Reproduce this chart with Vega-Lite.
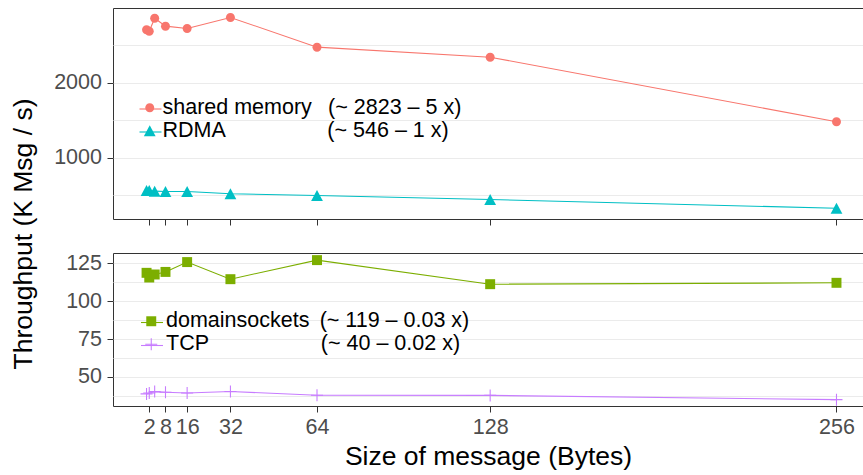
{
  "$schema": "https://vega.github.io/schema/vega-lite/v6.json",
  "padding": {"left": 10, "top": 7, "right": 0, "bottom": 0},
  "config": {
    "font": "Liberation Sans",
    "view": {"stroke": "#333333", "strokeWidth": 1},
    "axis": {
      "labelFont": "Liberation Sans",
      "titleFont": "Liberation Sans",
      "labelFontSize": 21.5,
      "labelColor": "#4d4d4d",
      "titleFontSize": 26.5,
      "titleFontWeight": "normal",
      "titleColor": "#000000",
      "tickColor": "#333333",
      "tickSize": 6,
      "tickWidth": 1,
      "domain": false,
      "gridColor": "#ebebeb",
      "gridWidth": 1.1,
      "labelOverlap": false
    },
    "legend": {
      "labelFont": "Liberation Sans",
      "labelFontSize": 21.5,
      "labelColor": "#000000",
      "labelLimit": 0
    }
  },
  "datasets": {
    "top": [
      {"size": 1, "throughput": 2707, "series": "shared memory"},
      {"size": 2, "throughput": 2688, "series": "shared memory"},
      {"size": 4, "throughput": 2861, "series": "shared memory"},
      {"size": 8, "throughput": 2755, "series": "shared memory"},
      {"size": 16, "throughput": 2724, "series": "shared memory"},
      {"size": 32, "throughput": 2871, "series": "shared memory"},
      {"size": 64, "throughput": 2475, "series": "shared memory"},
      {"size": 128, "throughput": 2341, "series": "shared memory"},
      {"size": 256, "throughput": 1480, "series": "shared memory"},
      {"size": 1, "throughput": 564, "series": "RDMA"},
      {"size": 2, "throughput": 564, "series": "RDMA"},
      {"size": 4, "throughput": 555, "series": "RDMA"},
      {"size": 8, "throughput": 551, "series": "RDMA"},
      {"size": 16, "throughput": 551, "series": "RDMA"},
      {"size": 32, "throughput": 520, "series": "RDMA"},
      {"size": 64, "throughput": 497, "series": "RDMA"},
      {"size": 128, "throughput": 443, "series": "RDMA"},
      {"size": 256, "throughput": 327, "series": "RDMA"}
    ],
    "bottom": [
      {"size": 1, "throughput": 118.8, "series": "domainsockets"},
      {"size": 2, "throughput": 115.7, "series": "domainsockets"},
      {"size": 4, "throughput": 117.7, "series": "domainsockets"},
      {"size": 8, "throughput": 119.4, "series": "domainsockets"},
      {"size": 16, "throughput": 125.9, "series": "domainsockets"},
      {"size": 32, "throughput": 114.6, "series": "domainsockets"},
      {"size": 64, "throughput": 127.2, "series": "domainsockets"},
      {"size": 128, "throughput": 111.3, "series": "domainsockets"},
      {"size": 256, "throughput": 112.2, "series": "domainsockets"},
      {"size": 1, "throughput": 38.8, "series": "TCP"},
      {"size": 2, "throughput": 39.4, "series": "TCP"},
      {"size": 4, "throughput": 40.3, "series": "TCP"},
      {"size": 8, "throughput": 39.9, "series": "TCP"},
      {"size": 16, "throughput": 39.4, "series": "TCP"},
      {"size": 32, "throughput": 40.4, "series": "TCP"},
      {"size": 64, "throughput": 37.9, "series": "TCP"},
      {"size": 128, "throughput": 37.8, "series": "TCP"},
      {"size": 256, "throughput": 35.0, "series": "TCP"}
    ]
  },
  "bounds": "flush",
  "spacing": 34,
  "resolve": {
    "scale": {"y": "independent", "color": "independent", "shape": "independent", "stroke": "independent"},
    "legend": {"color": "independent", "shape": "independent", "stroke": "independent"}
  },
  "vconcat": [
    {
      "width": 750,
      "height": 211,
      "data": {"name": "top"},
      "encoding": {
        "x": {
          "field": "size", "type": "quantitative",
          "scale": {"domain": [-11.4, 265.8], "nice": false, "zero": false},
          "axis": {"values": [2, 8, 16, 32, 64, 128, 256], "labels": false, "title": null, "grid": false}
        },
        "y": {
          "field": "throughput", "type": "quantitative",
          "scale": {"domain": [184, 2997], "nice": false, "zero": false},
          "axis": {
            "values": [500, 1000, 1500, 2000, 2500],
            "format": "d",
            "labelExpr": "datum.value % 1000 === 0 ? datum.label : ''",
            "tickOpacity": {"condition": {"test": "datum.value % 1000 === 0", "value": 1}, "value": 0},
            "grid": true,
            "labelPadding": 5.5,
            "title": "Throughput (K Msg / s)",
            "titleAngle": -90,
            "titleBaseline": "alphabetic",
            "titleAlign": "center",
            "titleX": -81.4,
            "titleY": 225.5
          }
        }
      },
      "layer": [
        {
          "mark": {"type": "line", "strokeWidth": 1.1},
          "encoding": {
            "stroke": {
              "field": "series", "type": "nominal", "sort": ["shared memory", "RDMA"],
              "scale": {"range": ["#F8766D", "#00BFC4"]},
              "legend": {
                "orient": "none", "legendX": 25.5, "legendY": 89, "title": null, "padding": 0,
                "symbolType": "stroke", "symbolSize": 484, "symbolStrokeWidth": 1.1,
                "labelOffset": -28, "rowPadding": 0, "zindex": 1,
                "labelExpr": "'\u00a0'"
              }
            }
          }
        },
        {
          "mark": {"type": "point", "filled": true, "size": 144, "opacity": 1},
          "encoding": {
            "color": {
              "field": "series", "type": "nominal",
              "scale": {"domain": ["shared memory", "RDMA"], "range": ["#F8766D", "#00BFC4"]},
              "legend": {
                "orient": "none", "legendX": 26, "legendY": 89, "title": null, "padding": 0,
                "symbolSize": 144, "symbolOpacity": 1, "symbolStrokeWidth": 0,
                "labelOffset": 2, "rowPadding": 0, "zindex": 2,
                "labelExpr": "datum.label === 'RDMA' ? 'RDMA\u00a0\u00a0\u00a0\u00a0\u00a0\u00a0\u00a0\u00a0\u00a0\u00a0\u00a0\u00a0\u00a0\u00a0\u00a0\u00a0\u00a0(~ 546 – 1 x)' : 'shared memory\u00a0\u00a0\u2009(~ 2823 – 5 x)'"
              }
            },
            "shape": {
              "field": "series", "type": "nominal",
              "scale": {"domain": ["shared memory", "RDMA"], "range": ["M0.75,0A0.75,0.75,0,1,1,-0.75,0A0.75,0.75,0,1,1,0.75,0Z", "M0,-0.92L0.98,0.92L-0.98,0.92Z"]},
              "legend": {
                "orient": "none", "legendX": 26, "legendY": 89, "title": null, "padding": 0,
                "symbolSize": 144, "symbolOpacity": 1, "symbolStrokeWidth": 0,
                "labelOffset": 2, "rowPadding": 0, "zindex": 2,
                "labelExpr": "datum.label === 'RDMA' ? 'RDMA\u00a0\u00a0\u00a0\u00a0\u00a0\u00a0\u00a0\u00a0\u00a0\u00a0\u00a0\u00a0\u00a0\u00a0\u00a0\u00a0\u00a0(~ 546 – 1 x)' : 'shared memory\u00a0\u00a0\u2009(~ 2823 – 5 x)'"
              }
            }
          }
        }
      ]
    },
    {
      "width": 750,
      "height": 153,
      "data": {"name": "bottom"},
      "encoding": {
        "x": {
          "field": "size", "type": "quantitative",
          "scale": {"domain": [-11.4, 265.8], "nice": false, "zero": false},
          "axis": {"values": [2, 8, 16, 32, 64, 128, 256], "grid": false, "labelPadding": 4, "title": "Size of message (Bytes)", "titlePadding": 6}
        },
        "y": {
          "field": "throughput", "type": "quantitative",
          "scale": {"domain": [30.8, 131.9], "nice": false, "zero": false},
          "axis": {
            "values": [37.5, 50, 62.5, 75, 87.5, 100, 112.5, 125],
            "format": "d",
            "labelExpr": "datum.value % 25 === 0 ? datum.label : ''",
            "tickOpacity": {"condition": {"test": "datum.value % 25 === 0", "value": 1}, "value": 0},
            "grid": true,
            "labelPadding": 5.5,
            "title": ""
          }
        }
      },
      "layer": [
        {
          "mark": {"type": "line", "strokeWidth": 1.1},
          "encoding": {
            "stroke": {
              "field": "series", "type": "nominal", "sort": ["domainsockets", "TCP"],
              "scale": {"range": ["#7CAE00", "#C77CFF"]},
              "legend": {
                "orient": "none", "legendX": 27, "legendY": 57.5, "title": null, "padding": 0,
                "symbolType": "stroke", "symbolSize": 484, "symbolStrokeWidth": 1.1,
                "labelOffset": -28, "rowPadding": 0, "zindex": 1,
                "labelExpr": "'\u00a0'"
              }
            }
          }
        },
        {
          "mark": {"type": "point", "filled": true, "size": 144, "opacity": 1},
          "encoding": {
            "color": {
              "field": "series", "type": "nominal",
              "scale": {"domain": ["domainsockets", "TCP"], "range": ["#7CAE00", "#C77CFF"]},
              "legend": {
                "orient": "none", "legendX": 27.5, "legendY": 57.5, "title": null, "padding": 0,
                "symbolSize": 144, "symbolOpacity": 1, "symbolStrokeWidth": 0,
                "labelOffset": 4, "rowPadding": 0, "zindex": 2,
                "labelExpr": "datum.label === 'TCP' ? 'TCP\u00a0\u00a0\u00a0\u00a0\u00a0\u00a0\u00a0\u00a0\u00a0\u00a0\u00a0\u00a0\u00a0\u00a0\u00a0\u00a0\u00a0\u00a0\u2009(~ 40 – 0.02 x)' : 'domainsockets\u00a0\u2009(~ 119 – 0.03 x)'"
              }
            },
            "shape": {
              "field": "series", "type": "nominal",
              "scale": {"domain": ["domainsockets", "TCP"], "range": ["M-0.83,-0.83H0.83V0.83H-0.83Z", "M-1,-0.09H1V0.09H-1ZM-0.09,-1H0.09V1H-0.09Z"]},
              "legend": {
                "orient": "none", "legendX": 27.5, "legendY": 57.5, "title": null, "padding": 0,
                "symbolSize": 144, "symbolOpacity": 1, "symbolStrokeWidth": 0,
                "labelOffset": 4, "rowPadding": 0, "zindex": 2,
                "labelExpr": "datum.label === 'TCP' ? 'TCP\u00a0\u00a0\u00a0\u00a0\u00a0\u00a0\u00a0\u00a0\u00a0\u00a0\u00a0\u00a0\u00a0\u00a0\u00a0\u00a0\u00a0\u00a0\u2009(~ 40 – 0.02 x)' : 'domainsockets\u00a0\u2009(~ 119 – 0.03 x)'"
              }
            }
          }
        }
      ]
    }
  ]
}
